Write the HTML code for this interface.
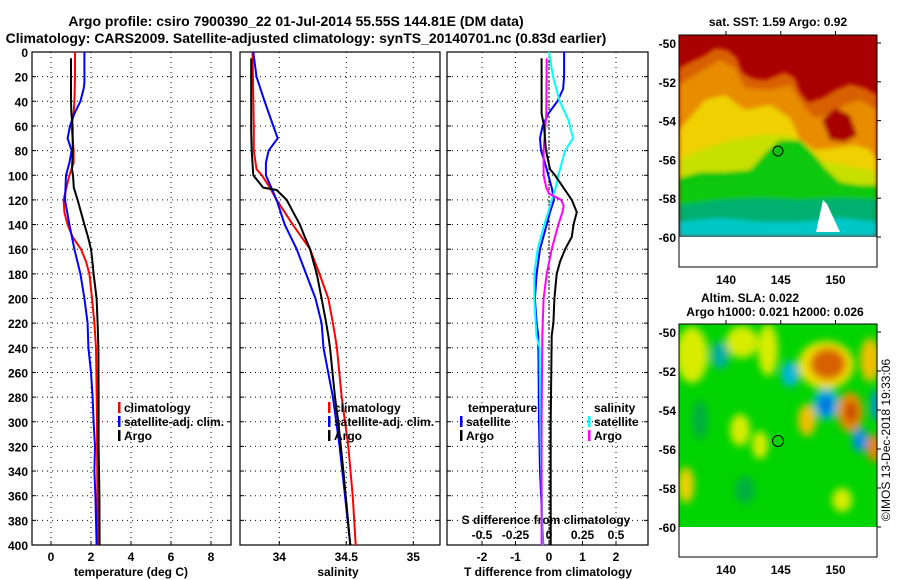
<!DOCTYPE html>
<html><head><meta charset="utf-8"><style>
body{margin:0;background:#fff;}
svg{display:block;font-family:"Liberation Sans",Arial,sans-serif;font-weight:bold;}
text{fill:#000;}
</style></head><body>
<svg id="fig" width="900" height="580" viewBox="0 0 900 580" xmlns="http://www.w3.org/2000/svg">
<defs>
<filter id="blur" filterUnits="userSpaceOnUse" x="660" y="300" width="240" height="260"><feGaussianBlur stdDeviation="4"/></filter>
<filter id="blur2" filterUnits="userSpaceOnUse" x="660" y="20" width="240" height="260"><feGaussianBlur stdDeviation="2"/></filter>
<clipPath id="c1"><rect x="679" y="35" width="198" height="202"/></clipPath>
<clipPath id="c2"><rect x="679" y="324" width="198" height="203"/></clipPath></defs>
<text x="296" y="26" font-size="14" text-anchor="middle">Argo profile: csiro 7900390_22 01-Jul-2014 55.55S 144.81E (DM data)</text>
<text x="306" y="43" font-size="14" text-anchor="middle">Climatology: CARS2009. Satellite-adjusted climatology: synTS_20140701.nc (0.83d earlier)</text>

<g>
<g clip-path="url(#c1)">
<rect x="679" y="35" width="198" height="202" fill="#a80000"/>
<g filter="url(#blur2)">
<polygon fill="#d86000" points="679,68 690,62 705,55 715,48 728,50 737,58 742,72 752,78 765,80 785,72 795,78 800,92 808,102 822,98 835,90 850,84 865,88 877,95 877,237 679,237"/>
<polygon fill="#e88c00" points="679,85 700,72 720,60 735,68 745,88 770,90 790,85 805,108 815,118 835,112 845,105 860,100 877,110 877,237 679,237"/>
<polygon fill="#a80000" points="822,120 835,108 850,115 857,135 845,142 830,140"/>
<polygon fill="#f0d000" points="679,130 690,118 705,100 725,95 745,110 770,105 790,118 800,140 815,150 835,148 855,145 870,150 877,160 877,237 679,237"/>
<polygon fill="#c8e000" points="679,160 700,150 730,140 760,135 790,135 805,150 820,160 845,165 870,170 877,172 877,237 679,237"/>
<polygon fill="#10c810" points="679,178 700,172 725,172 750,170 768,150 780,140 800,140 815,155 825,168 840,182 860,185 877,185 877,237 679,237"/>
<polygon fill="#00b070" points="679,205 720,200 760,198 800,200 840,198 877,200 877,237 679,237"/>
<polygon fill="#00c8c8" points="679,222 720,218 760,222 800,222 840,218 877,222 877,237 679,237"/>
</g>
<polygon fill="#ffffff" points="823,200 827,204 840,232 816,232"/>
</g>
<rect x="679" y="237" width="198" height="30" fill="#fff"/>
<rect x="679" y="35" width="198" height="232" fill="none" stroke="#000" stroke-width="1"/>
<circle cx="778" cy="151" r="5" fill="#10c010" stroke="#000" stroke-width="1"/>
</g>

<g>
<g clip-path="url(#c2)">
<rect x="679" y="324" width="198" height="203" fill="#00d400"/>
<g filter="url(#blur)">
<ellipse cx="692" cy="355" rx="16" ry="28" fill="#d8ec00"/>
<ellipse cx="742" cy="342" rx="16" ry="16" fill="#d8ec00"/>
<ellipse cx="768" cy="350" rx="10" ry="26" fill="#d8ec00"/>
<ellipse cx="720" cy="355" rx="9" ry="14" fill="#00b0a0"/>
<ellipse cx="790" cy="374" rx="9" ry="13" fill="#00b8d8"/>
<ellipse cx="826" cy="365" rx="28" ry="24" fill="#f0e000"/>
<ellipse cx="828" cy="364" rx="18" ry="16" fill="#d86000"/>
<ellipse cx="826" cy="404" rx="13" ry="16" fill="#00b8d8"/>
<ellipse cx="826" cy="405" rx="7" ry="10" fill="#0070e0"/>
<ellipse cx="807" cy="420" rx="9" ry="16" fill="#f0c000"/>
<ellipse cx="850" cy="412" rx="13" ry="20" fill="#e89000"/>
<ellipse cx="851" cy="412" rx="6" ry="11" fill="#c84000"/>
<ellipse cx="860" cy="440" rx="8" ry="12" fill="#0090e0"/>
<ellipse cx="874" cy="448" rx="7" ry="14" fill="#f08000"/>
<ellipse cx="870" cy="360" rx="10" ry="22" fill="#f0c000"/>
<ellipse cx="876" cy="405" rx="5" ry="16" fill="#0090e0"/>
<ellipse cx="686" cy="485" rx="8" ry="18" fill="#f0d000"/>
<ellipse cx="740" cy="430" rx="10" ry="16" fill="#d8ec00"/>
<ellipse cx="760" cy="445" rx="8" ry="14" fill="#d8ec00"/>
<ellipse cx="842" cy="500" rx="10" ry="12" fill="#d8ec00"/>
<ellipse cx="700" cy="420" rx="8" ry="20" fill="#00b040"/>
<ellipse cx="745" cy="490" rx="10" ry="14" fill="#00b040"/>
</g>
</g>
<rect x="679" y="527" width="198" height="30" fill="#fff"/>
<rect x="679" y="324" width="198" height="233" fill="none" stroke="#000" stroke-width="1"/>
<circle cx="778" cy="441" r="5.5" fill="none" stroke="#000" stroke-width="1"/>
</g>

<text x="778" y="26" font-size="12" text-anchor="middle">sat. SST: 1.59 Argo: 0.92</text>
<text x="750" y="302" font-size="12" text-anchor="middle">Altim. SLA: 0.022</text>
<text x="775" y="316" font-size="12" text-anchor="middle">Argo h1000: 0.021 h2000: 0.026</text>
<text x="0" y="0" font-size="12" font-weight="normal" text-anchor="middle" transform="translate(890,440) rotate(-90)">©IMOS 13-Dec-2018 19:33:06</text>
<g id="axes"></g>
</svg>
<script>
// ---- data ----
const tDepth  = [5,20,40,50,60,80,95,100,110,120,130,140,150,160,170,180,200,220,240,280,320,360,400];
const tArgo   = [1.0,1.0,1.0,1.02,1.08,1.09,1.05,1.1,1.14,1.33,1.5,1.67,1.85,2.0,2.07,2.13,2.28,2.33,2.37,2.38,2.38,2.42,2.43];
const tClimDepth = [0,20,40,50,60,80,90,100,110,120,130,140,150,160,170,180,200,220,240,300,400];
const tClim   = [1.2,1.2,1.17,1.13,1.03,1.13,1.13,0.92,0.77,0.63,0.67,0.83,1.08,1.5,1.75,1.92,2.05,2.17,2.25,2.3,2.33];
const tSatDepth = [0,25,30,40,50,60,70,80,90,100,120,140,160,180,200,220,240,260,280,300,320,340,360,400];
const tSat    = [1.67,1.67,1.63,1.47,1.17,0.95,0.83,1.03,0.92,0.75,0.7,0.92,1.17,1.47,1.67,1.83,1.87,2.0,2.08,2.13,2.2,2.17,2.22,2.28];

const sArgoDepth = [5,65,80,100,110,112,120,130,140,150,160,170,180,200,220,230,240,280,300,340,400];
const sArgo   = [33.79,33.79,33.794,33.806,33.88,33.98,34.055,34.104,34.154,34.19,34.23,34.254,34.28,34.316,34.35,34.366,34.378,34.416,34.44,34.478,34.53];
const sClimDepth = [0,60,80,95,100,110,120,130,140,160,180,200,220,230,240,280,320,360,400];
const sClim   = [33.8,33.81,33.81,33.83,33.87,33.93,33.98,34.04,34.1,34.23,34.3,34.366,34.4,34.416,34.43,34.466,34.515,34.548,34.57];
const sSatDepth = [0,20,40,60,70,80,90,100,110,120,140,160,180,200,220,240,280,320,360,400];
const sSat    = [33.806,33.83,33.89,33.955,33.988,33.92,33.9,33.9,33.94,33.98,34.04,34.13,34.2,34.27,34.316,34.33,34.4,34.45,34.49,34.53];

const dTArgoDepth = [5,50,60,80,95,100,110,120,130,140,150,160,170,180,200,220,230,300,400];
const dTArgo  = [-0.22,-0.22,-0.15,-0.09,0.03,0.18,0.43,0.68,0.83,0.73,0.68,0.48,0.33,0.23,0.16,0.13,0.08,0.05,0.05];
const dTSatDepth = [0,20,30,40,50,60,70,80,90,100,110,120,130,140,160,180,200,220,230,300,340,400];
const dTSat   = [0.45,0.45,0.42,0.25,-0.02,-0.19,-0.27,-0.24,-0.12,-0.02,0.08,0.15,0.03,-0.07,-0.27,-0.37,-0.42,-0.37,-0.32,-0.3,-0.27,-0.17];
const dSSatDepth = [0,20,40,55,70,80,90,100,110,120,130,140,160,180,200,230,240,300,400];
const dSSat   = [0.0,0.03,0.08,0.144,0.18,0.12,0.095,0.07,0.05,0.02,-0.005,-0.035,-0.085,-0.11,-0.11,-0.094,-0.07,-0.065,-0.047];
const dSArgoDepth = [5,50,80,100,110,115,120,125,130,140,150,160,180,200,230,300,400];
const dSArgo  = [-0.017,-0.02,-0.04,-0.04,-0.02,0.0,0.09,0.11,0.1,0.07,0.045,0.02,-0.017,-0.04,-0.05,-0.055,-0.055];

const depthTicks = [0,20,40,60,80,100,120,140,160,180,200,220,240,260,280,300,320,340,360,380,400];
const tTicks = [0,2,4,6,8];
const sTicks = [34,34.5,35];
const dTTicks = [-2,-1,0,1,2];
const dSTicks = [-0.5,-0.25,0,0.25,0.5];
const latTicks = [-50,-52,-54,-56,-58,-60];
const lonTicks = [140,145,150];

// ---- scales ----
const NS="http://www.w3.org/2000/svg";
const Y0=52, Y1=545;
const yD = d => Y0 + d*(Y1-Y0)/400;
const xT = t => 51 + t*20;
const xS = s => 279.3 + (s-34)*134;
const xDT = t => 549 + t*33.5;
const xDS = s => 549 + s*134;
const yLat1 = l => 43 + (-50-l)*19.4;
const yLat2 = l => 332 + (-50-l)*19.5;
const xLon = l => 726 + (l-140)*10.95;

const root=document.getElementById('axes');
function mk(tag, attrs, parent){const e=document.createElementNS(NS,tag);for(const k in attrs)e.setAttribute(k,attrs[k]);(parent||root).appendChild(e);return e;}
function txt(s,x,y,size,anchor,name){const e=mk('text',{x:x,y:y,'font-size':size,'text-anchor':anchor||'middle'});e.textContent=s;


return e;}

const panels=[{x0:32,x1:231,ticks:tTicks,fx:xT,fmt:v=>v,name:'temperature'},
              {x0:240,x1:440,ticks:sTicks,fx:xS,fmt:v=>v,name:'salinity'},
              {x0:447,x1:648,ticks:dTTicks,fx:xDT,fmt:v=>v,name:'difference'}];
panels.forEach(p=>{
  const g=mk('g',{});
  
  
  depthTicks.forEach(d=>{
    mk('line',{x1:p.x0,x2:p.x1,y1:yD(d),y2:yD(d),stroke:'#000','stroke-width':1,'stroke-dasharray':'1,4'},g);
    mk('line',{x1:p.x0,x2:p.x0+4,y1:yD(d),y2:yD(d),stroke:'#000'},g);
    mk('line',{x1:p.x1-4,x2:p.x1,y1:yD(d),y2:yD(d),stroke:'#000'},g);
  });
  p.ticks.forEach(v=>{
    const x=p.fx(v);
    mk('line',{x1:x,x2:x,y1:Y0,y2:Y1,stroke:'#000','stroke-width':1,'stroke-dasharray':'1,4'},g);
    mk('line',{x1:x,x2:x,y1:Y1-4,y2:Y1,stroke:'#000'},g);
    txt(String(p.fmt(v)),x,561,12,'middle','x-tick-label');
  });
  mk('rect',{x:p.x0,y:Y0,width:p.x1-p.x0,height:Y1-Y0,fill:'none',stroke:'#000','stroke-width':1.2},g);
});
depthTicks.forEach(d=>txt(String(d),28,yD(d)+5,12,'end','depth-tick-label'));
dSTicks.forEach(v=>{txt(String(v),xDS(v),539,12,'middle','s-diff-tick-label');});
txt('temperature (deg C)',131,576,12,'middle','temperature-axis-title');
txt('salinity',338,576,12,'middle','salinity-axis-title');
txt('T difference from climatology',548,576,12,'middle','t-diff-axis-title');
txt('S difference from climatology',546,524,12,'middle','s-diff-axis-title');

function line(depths, vals, fx, color, name){
  const pts=depths.map((d,i)=>fx(vals[i]).toFixed(1)+','+yD(d).toFixed(1)).join(' ');
  const e=mk('polyline',{points:pts,fill:'none',stroke:color,'stroke-width':2,'stroke-linejoin':'round'});
  
  
}
line(tClimDepth,tClim,xT,'#ff0000','temp-climatology-line');
line(tSatDepth,tSat,xT,'#0000ff','temp-satellite-line');
line(tDepth,tArgo,xT,'#000000','temp-argo-line');
line(sClimDepth,sClim,xS,'#ff0000','sal-climatology-line');
line(sSatDepth,sSat,xS,'#0000ff','sal-satellite-line');
line(sArgoDepth,sArgo,xS,'#000000','sal-argo-line');
mk('line',{x1:xDT(0),x2:xDT(0),y1:Y0,y2:Y1,stroke:'#000','stroke-dasharray':'2,2'});
line(dTSatDepth,dTSat,xDT,'#0000ff','tdiff-satellite-line');
line(dSSatDepth,dSSat,xDS,'#00ffff','sdiff-satellite-line');
line(dSArgoDepth,dSArgo,xDS,'#ff00ff','sdiff-argo-line');
line(dTArgoDepth,dTArgo,xDT,'#000000','tdiff-argo-line');

function legend(x,y,color,label,name){
  const g=mk('g',{});
  
  
  mk('rect',{x:x,y:y-10,width:2.5,height:11,fill:color},g);
  const t=mk('text',{x:x+6,y:y,'font-size':12},g);t.textContent=label;
}
legend(118,412,'#ff0000','climatology','legend-climatology');
legend(118,426,'#0000ff','satellite-adj. clim.','legend-satellite-adj');
legend(118,440,'#000000','Argo','legend-argo');
legend(328,412,'#ff0000','climatology','legend-sal-climatology');
legend(328,426,'#0000ff','satellite-adj. clim.','legend-sal-satellite-adj');
legend(328,440,'#000000','Argo','legend-sal-argo');
txt('temperature',468,412,12,'start','legend-temperature-header');
legend(460,426,'#0000ff','satellite','legend-tdiff-satellite');
legend(460,440,'#000000','Argo','legend-tdiff-argo');
txt('salinity',594,412,12,'start','legend-salinity-header');
legend(588,426,'#00ffff','satellite','legend-sdiff-satellite');
legend(588,440,'#ff00ff','Argo','legend-sdiff-argo');

latTicks.forEach(l=>{
  txt(String(l),676,yLat1(l)+5,12,'end','sst-lat-label');
  mk('line',{x1:877,x2:881,y1:yLat1(l),y2:yLat1(l),stroke:'#000'});
  txt(String(l),676,yLat2(l)+5,12,'end','sla-lat-label');
  mk('line',{x1:877,x2:881,y1:yLat2(l),y2:yLat2(l),stroke:'#000'});
});
lonTicks.forEach(l=>{
  txt(String(l),xLon(l),284,12,'middle','sst-lon-label');
  mk('line',{x1:xLon(l),x2:xLon(l),y1:31,y2:35,stroke:'#000'});
  txt(String(l),xLon(l),574,12,'middle','sla-lon-label');
  mk('line',{x1:xLon(l),x2:xLon(l),y1:320,y2:324,stroke:'#000'});
});
</script>
</body></html>
